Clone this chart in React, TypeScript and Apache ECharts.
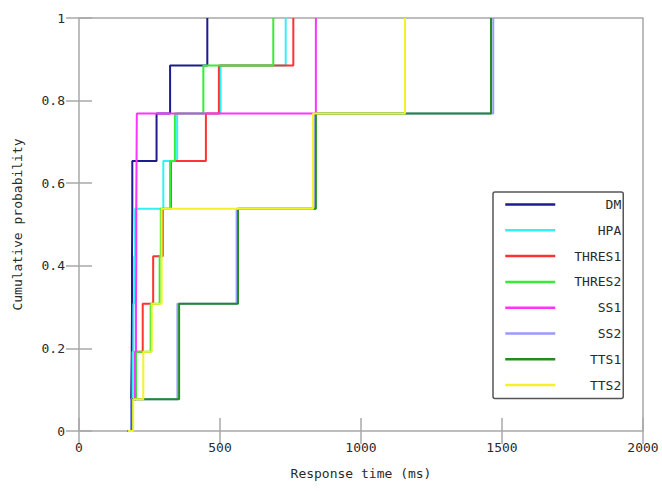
import React, { useEffect, useRef } from "react";
import * as echarts from "echarts";

const seriesNames = ["DM", "HPA", "THRES1", "THRES2", "SS1", "SS2", "TTS1", "TTS2"];
const seriesColors = ["#1c1c8e", "#2ff2f2", "#ff3333", "#33ee33", "#ff33ff", "#9a9aff", "#228b22", "#f2f226"];

// CDF points: [response time (ms), cumulative probability]
const dmData = [[172, 0], [185, 0.077], [187, 0.192], [188, 0.308], [188, 0.423], [189, 0.538], [189, 0.654], [275, 0.769], [323, 0.885], [455, 1]];
const hpaData = [[174, 0], [186, 0.077], [190, 0.192], [193, 0.308], [196, 0.423], [199, 0.538], [299, 0.654], [348, 0.769], [502, 0.885], [733, 1]];
const thres1Data = [[174, 0], [188, 0.077], [202, 0.192], [226, 0.308], [263, 0.423], [297, 0.538], [326, 0.654], [450, 0.769], [496, 0.885], [760, 1]];
const thres2Data = [[174, 0], [190, 0.077], [202, 0.192], [254, 0.308], [286, 0.423], [290, 0.538], [323, 0.654], [340, 0.769], [441, 0.885], [689, 1]];
const ss1Data = [[173, 0], [187, 0.077], [198, 0.192], [202, 0.308], [203, 0.423], [203, 0.538], [204, 0.654], [205, 0.769], [840, 1]];
const ss2Data = [[172, 0], [186, 0.077], [349, 0.308], [559, 0.538], [837, 0.769], [1469, 1]];
const tts1Data = [[173, 0], [188, 0.077], [355, 0.308], [564, 0.538], [840, 0.769], [1461, 1]];
const tts2Data = [[174, 0], [192, 0.077], [228, 0.192], [258, 0.308], [293, 0.538], [830, 0.769], [1156, 1]];

const allData = [dmData, hpaData, thres1Data, thres2Data, ss1Data, ss2Data, tts1Data, tts2Data];

const xTicks = [0, 500, 1000, 1500, 2000];
const yTicks = [0, 0.2, 0.4, 0.6, 0.8, 1];

const FONT = "DejaVu Sans Mono";

export default function App() {
  const ref = useRef<HTMLDivElement>(null);
  useEffect(() => {
    if (!ref.current) return;
    const chart = echarts.init(ref.current, undefined, { renderer: "svg" });
    const frame = "#a8a8a8";
    const tickCommon = { show: true, inside: true, length: 13, lineStyle: { color: frame, width: 1.5 } };
    const labelCommon = { fontFamily: FONT, fontSize: 13, color: "#2a2a2a" };
    chart.setOption({
      animation: false,
      backgroundColor: "#ffffff",
      grid: {
        left: 79, top: 18, right: 19, bottom: 60,
        show: true, borderColor: frame, borderWidth: 1.5, backgroundColor: "transparent",
      },
      xAxis: [
        {
          type: "value", min: xTicks[0], max: xTicks[xTicks.length - 1], interval: 500,
          axisLine: { show: false }, splitLine: { show: false },
          axisTick: tickCommon,
          axisLabel: { ...labelCommon, margin: 10, formatter: (v: number) => String(v) },
          name: "Response time (ms)", nameLocation: "middle", nameGap: 36,
          nameTextStyle: { fontFamily: FONT, fontSize: 13, color: "#2a2a2a" },
        },
        {
          type: "value", position: "top", min: 0, max: 2000, interval: 500,
          axisLine: { show: false }, splitLine: { show: false },
          axisTick: tickCommon, axisLabel: { show: false },
        },
      ],
      yAxis: [
        {
          type: "value", min: yTicks[0], max: yTicks[yTicks.length - 1], interval: 0.2,
          axisLine: { show: false }, splitLine: { show: false },
          axisTick: tickCommon,
          axisLabel: { ...labelCommon, margin: 14, formatter: (v: number) => String(Math.round(v * 10) / 10) },
          name: "Cumulative probability", nameLocation: "middle", nameGap: 55,
          nameTextStyle: { fontFamily: FONT, fontSize: 13, color: "#2a2a2a" },
        },
        {
          type: "value", position: "right", min: 0, max: 1, interval: 0.2,
          axisLine: { show: false }, splitLine: { show: false },
          axisTick: tickCommon, axisLabel: { show: false },
        },
      ],
      legend: {
        orient: "vertical",
        left: 493, top: 192,
        padding: [6, 2, 7, 11],
        itemWidth: 50, itemHeight: 14, itemGap: 12.8,
        borderColor: "#555555", borderWidth: 1.5, borderRadius: 2,
        backgroundColor: "#ffffff",
        itemStyle: { opacity: 0 },
        lineStyle: { width: 2.5 },
        data: seriesNames,
        formatter: (n: string) => "{a|" + n + "}",
        textStyle: {
          fontFamily: FONT, fontSize: 13, color: "#2a2a2a",
          rich: { a: { width: 61, align: "right", fontFamily: FONT, fontSize: 13, color: "#2a2a2a" } },
        },
      },
      series: seriesNames.map((name, i) => ({
        name,
        type: "line",
        step: "end",
        symbol: "none",
        data: allData[i],
        lineStyle: { color: seriesColors[i], width: 2 },
        itemStyle: { color: seriesColors[i] },
        z: 2 + i,
      })),
    });
    return () => chart.dispose();
  }, []);
  return <div ref={ref} style={{ width: 662, height: 491, position: "absolute", left: 0, top: 0 }} />;
}
